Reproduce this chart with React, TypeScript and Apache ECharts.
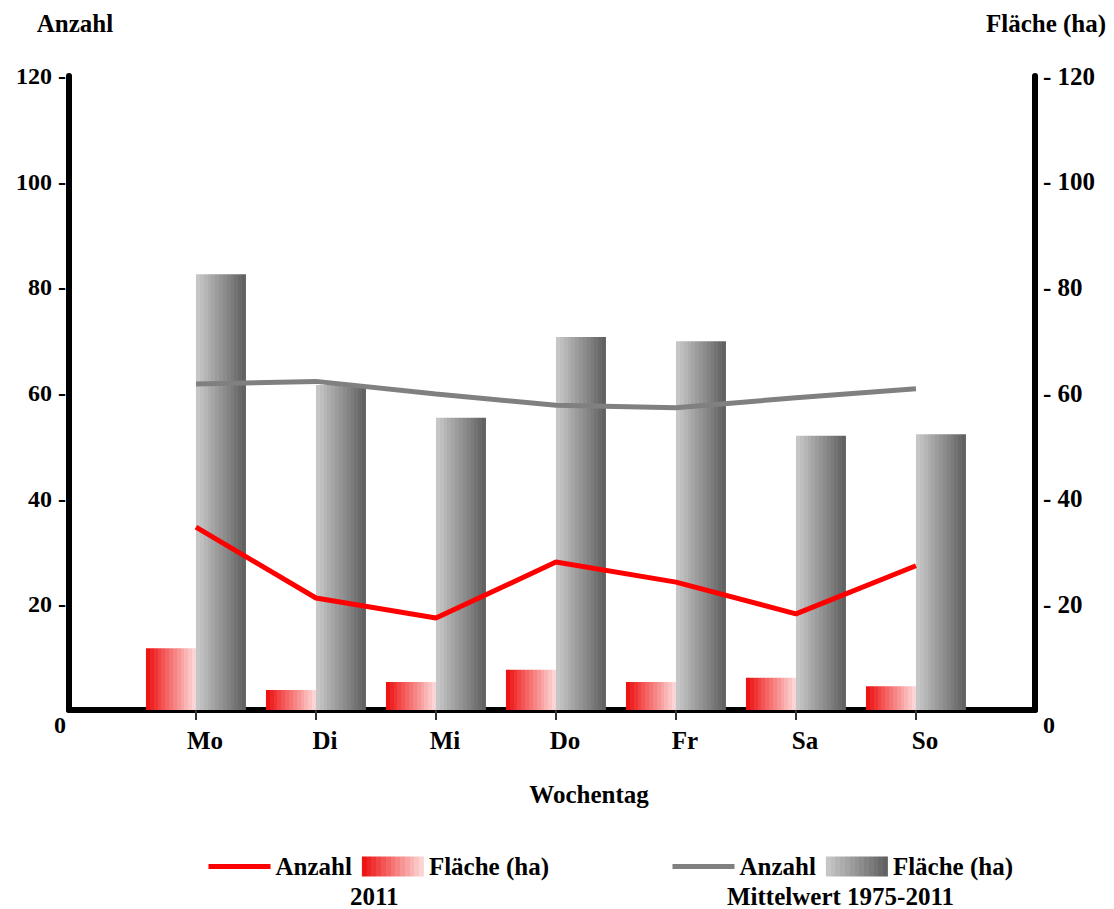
import React, { useEffect, useRef } from "react";
import * as echarts from "echarts";

const days = ["Mo", "Di", "Mi", "Do", "Fr", "Sa", "So"];
const anzahl2011 = [34.6, 21.2, 17.4, 28.0, 24.2, 18.2, 27.3];
const flaeche2011 = [11.7, 3.8, 5.3, 7.6, 5.3, 6.1, 4.5];
const anzahlMittel = [61.7, 62.2, 59.8, 57.7, 57.2, 59.1, 60.8];
const flaecheMittel = [82.5, 61.5, 55.3, 70.6, 69.8, 51.9, 52.2];
const dayPositions = [1, 2, 3, 4, 5, 6, 7];

const FONT = "'Liberation Serif', 'Times New Roman', serif";

function stepped(from: number[], to: number[], n: number) {
  const stops: { offset: number; color: string }[] = [];
  for (let i = 0; i < n; i++) {
    const t = i / (n - 1);
    const c = from.map((f, k) => Math.round(f + (to[k] - f) * t));
    const col = `rgb(${c[0]},${c[1]},${c[2]})`;
    stops.push({ offset: i / n, color: col });
    stops.push({ offset: (i + 1) / n, color: col });
  }
  return new echarts.graphic.LinearGradient(0, 0, 1, 0, stops);
}

export default function App() {
  const ref = useRef<HTMLDivElement>(null);
  useEffect(() => {
    document.body.style.margin = "0";
    if (!ref.current) return;
    const chart = echarts.init(ref.current, undefined, { renderer: "svg" });
    const redGrad = stepped([238, 20, 20], [252, 212, 212], 13);
    const grayGrad = stepped([198, 198, 198], [98, 98, 98], 13);
    const toPts = (arr: number[]) => arr.map((v, i) => [dayPositions[i], v]);
    const labelFmt = (name: string) => (name.startsWith("Anzahl") ? "Anzahl" : "Fläche (ha)");
    const legendText = { fontFamily: FONT, fontWeight: "bold", fontSize: 25, color: "#000" };
    chart.setOption({
      animation: false,
      textStyle: { fontFamily: FONT },
      grid: { left: 69, right: 79, top: 76, bottom: 199, containLabel: false },
      xAxis: {
        type: "value",
        min: -0.058,
        max: 7.992,
        name: "Wochentag",
        nameLocation: "middle",
        nameGap: 72,
        nameTextStyle: { fontFamily: FONT, fontWeight: "bold", fontSize: 25, color: "#000", padding: [0, 0, 0, 74] },
        axisLine: { onZero: false, lineStyle: { color: "#000", width: 6 } },
        axisTick: { show: true, customValues: dayPositions, length: 10, lineStyle: { color: "#333", width: 2 } },
        axisLabel: {
          customValues: dayPositions,
          formatter: (v: number) => days[Math.round(v) - 1] ?? "",
          fontFamily: FONT,
          fontWeight: "bold",
          fontSize: 25,
          color: "#000",
          margin: 18,
          padding: [0, 0, 0, 18],
        },
        splitLine: { show: false },
      },
      yAxis: [
        {
          type: "value",
          position: "left",
          min: 0,
          max: 120,
          interval: 20,
          name: "Anzahl",
          nameLocation: "end",
          nameGap: 40,
          nameTextStyle: { fontFamily: FONT, fontWeight: "bold", fontSize: 25, color: "#000", padding: [0, 0, 0, 12] },
          axisLine: { show: true, onZero: false, lineStyle: { color: "#000", width: 6 } },
          axisTick: { show: false },
          splitLine: { show: false },
          axisLabel: {
            formatter: (v: number) => (v === 0 ? "{z|0}" : v + " -"),
            fontFamily: FONT,
            fontWeight: "bold",
            fontSize: 24,
            color: "#000",
            margin: 3,
            rich: { z: { fontFamily: FONT, fontWeight: "bold", fontSize: 24, color: "#000", padding: [30, 0, 0, 0] } },
          },
        },
        {
          type: "value",
          position: "right",
          min: 0,
          max: 120,
          interval: 20,
          name: "Fläche (ha)",
          nameLocation: "end",
          nameGap: 40,
          nameTextStyle: { fontFamily: FONT, fontWeight: "bold", fontSize: 25, color: "#000", padding: [0, 0, 0, 22] },
          axisLine: { show: true, onZero: false, lineStyle: { color: "#000", width: 6 } },
          axisTick: { show: false },
          splitLine: { show: false },
          axisLabel: {
            formatter: (v: number) => (v === 0 ? "{z|0}" : "- " + v),
            fontFamily: FONT,
            fontWeight: "bold",
            fontSize: 25,
            color: "#000",
            margin: 8,
            rich: { z: { fontFamily: FONT, fontWeight: "bold", fontSize: 24, color: "#000", padding: [30, 0, 0, 0] } },
          },
        },
      ],
      legend: [
        {
          left: 206,
          top: 854,
          padding: 0,
          itemWidth: 62,
          itemHeight: 20,
          itemGap: 10,
          data: [
            { name: "Anzahl 2011", itemStyle: { opacity: 0 }, lineStyle: { width: 5, color: "#ff0000" } },
            { name: "Fläche 2011", icon: "rect" },
          ],
          formatter: labelFmt,
          textStyle: legendText,
          selectedMode: false,
        },
        {
          left: 670,
          top: 854,
          padding: 0,
          itemWidth: 62,
          itemHeight: 20,
          itemGap: 10,
          data: [
            { name: "Anzahl Mittel", itemStyle: { opacity: 0 }, lineStyle: { width: 5, color: "#808080" } },
            { name: "Fläche Mittel", icon: "rect" },
          ],
          formatter: labelFmt,
          textStyle: legendText,
          selectedMode: false,
        },
      ],
      graphic: [
        {
          type: "text",
          left: 350,
          top: 884,
          style: { text: "2011", fontFamily: FONT, fontWeight: "bold", fontSize: 25, fill: "#000" },
        },
        {
          type: "text",
          left: 727,
          top: 884,
          style: { text: "Mittelwert 1975-2011", fontFamily: FONT, fontWeight: "bold", fontSize: 25, fill: "#000" },
        },
      ],
      series: [
        {
          name: "Fläche 2011",
          type: "bar",
          yAxisIndex: 1,
          barWidth: 50,
          barGap: "0%",
          data: toPts(flaeche2011),
          itemStyle: { color: redGrad },
        },
        {
          name: "Fläche Mittel",
          type: "bar",
          yAxisIndex: 1,
          barWidth: 50,
          barGap: "0%",
          data: toPts(flaecheMittel),
          itemStyle: { color: grayGrad },
        },
        {
          name: "Anzahl 2011",
          type: "line",
          yAxisIndex: 0,
          symbol: "none",
          data: toPts(anzahl2011),
          lineStyle: { color: "#ff0000", width: 5 },
          itemStyle: { color: "#ff0000" },
          z: 5,
        },
        {
          name: "Anzahl Mittel",
          type: "line",
          yAxisIndex: 0,
          symbol: "none",
          data: toPts(anzahlMittel),
          lineStyle: { color: "#808080", width: 5 },
          itemStyle: { color: "#808080" },
          z: 5,
        },
      ],
    });
    return () => chart.dispose();
  }, []);
  return <div ref={ref} style={{ width: 1114, height: 909 }} />;
}
